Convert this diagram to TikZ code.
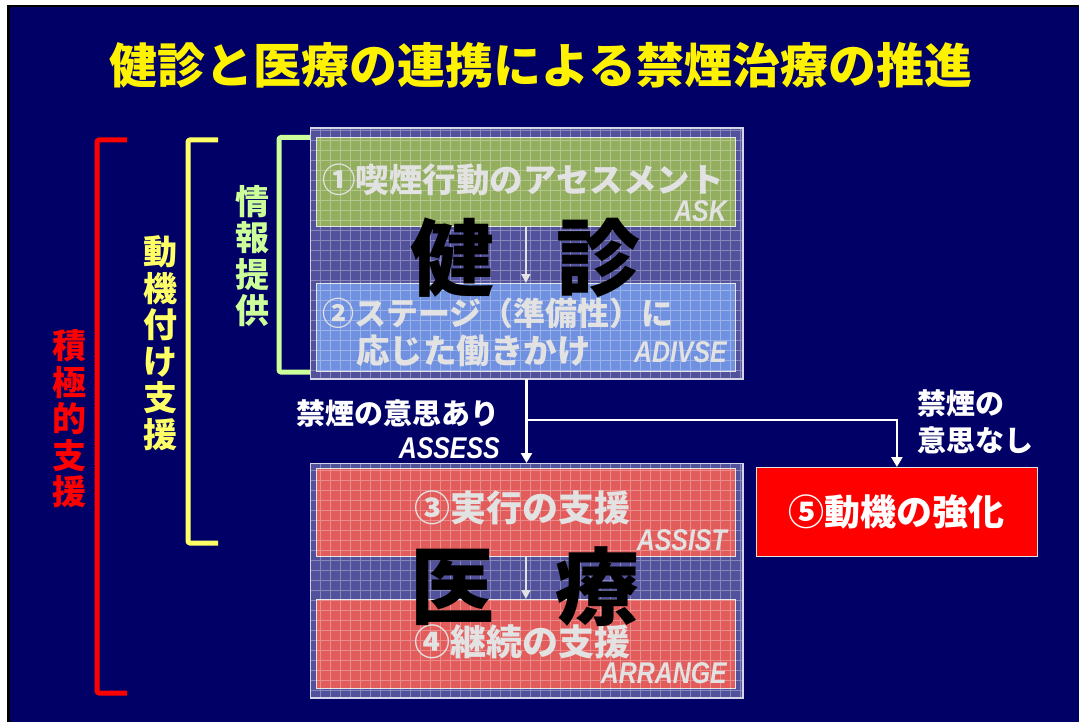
\documentclass[tikz,border=0pt]{standalone}
\usepackage{fontspec}
\setmainfont{Noto Sans CJK JP}
\newfontfamily\latf{Liberation Sans}
\usetikzlibrary{arrows.meta}
\definecolor{navy}{HTML}{000066}
\definecolor{panelc}{HTML}{52529C}
\definecolor{boxgreen}{HTML}{92AE5E}
\definecolor{boxblue}{HTML}{7090E0}
\definecolor{boxred}{HTML}{E25C5C}
\definecolor{boxtext}{HTML}{E2E2E2}
\definecolor{ylw}{HTML}{FFFF66}
\definecolor{grn}{HTML}{CCFF99}
\newcommand{\fsz}[1]{\fontsize{#1}{#1}\selectfont\bfseries}
\newcommand{\eng}[1]{\scalebox{0.83}[1]{\latf\fontsize{30}{30}\selectfont\bfseries\itshape #1}}
\begin{document}
\begin{tikzpicture}[x=1pt,y=-1pt,
  panel/.style={fill=panelc, draw=white!75!panelc, line width=1pt, inner sep=0pt, anchor=north west},
  inbox/.style={draw=white!80!gray, line width=0.8pt, inner sep=0pt, anchor=north west},
  gridl/.style={white, opacity=0.3, line width=0.7pt},
  txt/.style={inner sep=0pt, text=boxtext},
  big/.style={inner sep=0pt, text=black, font=\fsz{84}},
  conn/.style={white, line width=2.6pt, -{Triangle[width=11pt,length=10pt]}},
  inarrow/.style={boxtext, line width=2pt, -{Triangle[width=9pt,length=9pt]}},
  bracket/.style={line width=5pt, line join=round, rounded corners=1.5pt},
  vlabel/.style={inner sep=0pt, align=center, font=\fontsize{34}{36.5}\selectfont\bfseries}
]
\useasboundingbox (0,0) rectangle (1079,722);
\fill[white] (0,0) rectangle (1079,722);
\fill[black] (7,5) rectangle (1079,722);
\fill[navy] (10,7.5) rectangle (1079,722);

% title
\node[inner sep=0pt, text=yellow, font=\fsz{48}] (title) at (541,65) {健診と医療の連携による禁煙治療の推進};

% brackets
\draw[bracket, red] (127,140) -- (97,140) -- (97,693) -- (127,693);
\draw[bracket, ylw] (218,140) -- (188,140) -- (188,543) -- (218,543);
\draw[bracket, grn] (310,137.5) -- (279,137.5) -- (279,372) -- (310,372);
\node[vlabel, text=red] (lab1) at (69,419) {積\\極\\的\\支\\援};
\node[vlabel, text=ylw] (lab2) at (160,343) {動\\機\\付\\け\\支\\援};
\node[vlabel, text=grn] (lab3) at (252,256) {情\\報\\提\\供};

% panels
\node[panel, minimum width=432pt, minimum height=250pt] (top) at (310,128) {};
\node[panel, minimum width=432pt, minimum height=234pt] (bot) at (310,463) {};
\node[inbox, fill=boxgreen, minimum width=419pt, minimum height=89pt] (b1) at (316,137) {};
\node[inbox, fill=boxblue, minimum width=419pt, minimum height=88pt] (b2) at (316,283) {};
\node[inbox, fill=boxred, minimum width=419pt, minimum height=88pt] (b3) at (316,468) {};
\node[inbox, fill=boxred, minimum width=419pt, minimum height=89pt] (b4) at (316,599) {};
\draw[gridl] (310,378) grid[step=10pt] (742,128);
\draw[gridl] (310,697) grid[step=10pt] (742,463);
\draw[draw=white!75!panelc, line width=1pt] (top.south west) rectangle (top.north east);
\draw[draw=white!75!panelc, line width=1pt] (bot.south west) rectangle (bot.north east);

% box texts
\node[txt, anchor=west, font=\fsz{33.5}] (t1) at (322,180) {①喫煙行動のアセスメント};
\node[txt, anchor=east] (e1) at (727,211) {\eng{ASK}};
\node[txt, anchor=west, font=\fsz{32}] (t2a) at (322,313) {②ステージ（準備性）に};
\node[txt, anchor=west, font=\fsz{33.5}] (t2b) at (356,351) {応じた働きかけ};
\node[txt, anchor=east] (e2) at (727,352) {\eng{ADIVSE}};
\node[txt, anchor=west, font=\fsz{36}] (t3) at (414,508) {③実行の支援};
\node[txt, anchor=east] (e3) at (727,540) {\eng{ASSIST}};
\node[txt, anchor=west, font=\fsz{36}] (t4) at (414,642) {④継続の支援};
\node[txt, anchor=east] (e4) at (727,673) {\eng{ARRANGE}};

% inner arrows
\draw[inarrow] (b1.south) -- (b2.north);
\draw[inarrow] (b3.south) -- (b4.north);

% big labels
\node[big] (k1) at (452,258) {健};
\node[big] (k2) at (598,258) {診};
\node[big] (k3) at (452,587) {医};
\node[big] (k4) at (597,587) {療};

% box 5
\node[fill=red, draw=white!80!gray, line width=0.8pt, inner sep=0pt, anchor=north west, minimum width=281pt, minimum height=89pt] (b5) at (756,467) {};
\node[inner sep=0pt, text=white, font=\fsz{36}] (t5) at (b5.center) {⑤動機の強化};

% connectors
\coordinate (br) at (526,420);
\draw[conn] (top.south) -- (bot.north);
\draw[conn] (br) -| (b5.north);

% connector labels
\node[inner sep=0pt, anchor=east, text=white, font=\fsz{29}] (l1) at (500,413) {禁煙の意思あり};
\node[inner sep=0pt, anchor=east, text=white] (l2) at (500,448) {\eng{ASSESS}};
\node[inner sep=0pt, anchor=north west, text=white, align=left, font=\fontsize{29}{37}\selectfont\bfseries] (l3) at (917,389) {禁煙の\\意思なし};
\end{tikzpicture}
\end{document}
